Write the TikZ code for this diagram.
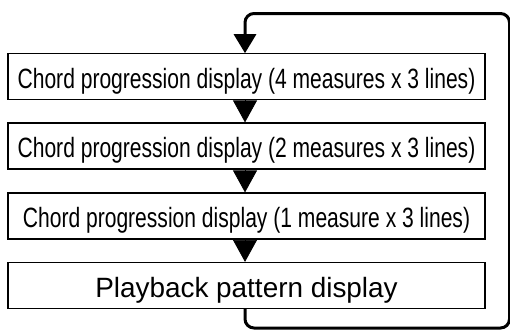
\documentclass[tikz,border=0pt]{standalone}
\usepackage{fontspec}
\setmainfont{Liberation Sans}
\newfontfamily\condfont[FakeStretch=0.755]{Liberation Sans}
\usetikzlibrary{arrows.meta}
\begin{document}
\begin{tikzpicture}[x=1pt,y=-1pt,
  box/.style={draw,line width=1.2pt,minimum width=477pt,minimum height=46pt,inner sep=0pt,
              text height=23pt,text depth=0pt,font=\fontsize{27.9}{30}\selectfont},
  cond/.style={font=\fontsize{27.9}{30}\condfont},
  tri/.style={-{Triangle[width=24pt,length=22pt]},line width=0.8pt},
  loopline/.style={line width=3pt,rounded corners=9pt,-{Triangle[width=22pt,length=19pt]}}]
\useasboundingbox (0,0) rectangle (510,330);
\node[box,cond] (b1) at (246.5,76.8) {Chord progression display (4 measures x 3 lines)};
\node[box,cond] (b2) at (246.5,146) {Chord progression display (2 measures x 3 lines)};
\node[box,cond] (b3) at (246.5,216) {Chord progression display (1 measure x 3 lines)};
\node[box] (b4) at (246.5,285.5) {Playback pattern display};
\coordinate (ax) at (245,0);
\coordinate (lb) at (509.5,328);
\coordinate (lt) at (509.5,13.5);
\draw[tri] (b1.south -| ax) -- (b2.north -| ax);
\draw[tri] (b2.south -| ax) -- (b3.north -| ax);
\draw[tri] (b3.south -| ax) -- (b4.north -| ax);
\draw[loopline] (b4.south -| ax) -- (ax |- lb) -- (lb) -- (lt) -- (ax |- lt) -- (b1.north -| ax);
\end{tikzpicture}
\end{document}
